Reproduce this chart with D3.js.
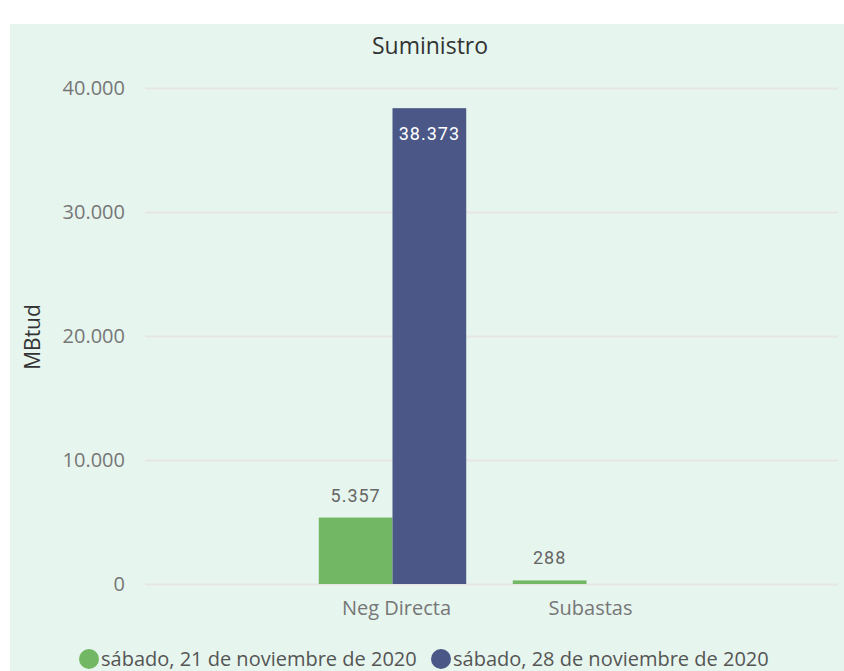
<!DOCTYPE html>
<html lang="es">
<head>
<meta charset="UTF-8" />
<title>Suministro</title>
<script src="https://cdn.jsdelivr.net/npm/d3@7"></script>
<style>
  body { margin: 0; background: #fff; }
  text { font-family: "Open Sans", "Noto Sans", sans-serif; }
</style>
</head>
<body>
<div id="chart"></div>
<script>
  const categories = ["Neg Directa", "Subastas"];
  const seriesNames = ["sábado, 21 de noviembre de 2020", "sábado, 28 de noviembre de 2020"];
  const series21 = [5357, 288];
  const series28 = [38373, null];
  const yTicks = [0, 10000, 20000, 30000, 40000];
  const colors = ["#72b763", "#4a5787"];

  const width = 844, height = 671;
  const locale = d3.formatLocale({ decimal: ",", thousands: ".", grouping: [3], currency: ["", "€"] });
  const fmt = locale.format(",d");

  const svg = d3.select("#chart").append("svg")
    .attr("width", width).attr("height", height);

  // panel background
  svg.append("rect").attr("x", 10).attr("y", 24).attr("width", width - 10).attr("height", height - 24)
    .attr("fill", "#e6f5ee");

  const y = d3.scaleLinear().domain([0, 40000]).range([584, 88]);
  const x0 = d3.scaleBand().domain(categories).range([143, 836]).paddingInner(0.24).paddingOuter(0.906);
  const x1 = d3.scaleBand().domain([0, 1]).range([0, x0.bandwidth()]);

  // title
  svg.append("text").attr("x", 430).attr("y", 54).attr("text-anchor", "middle")
    .attr("font-size", 23).attr("fill", "#333").text("Suministro");

  // y axis label
  svg.append("text").attr("transform", "translate(40,337) rotate(-90)").attr("text-anchor", "middle")
    .attr("font-size", 21).attr("fill", "#333").text("MBtud");

  // grid + ticks
  const yAxis = svg.append("g").attr("transform", "translate(145,0)")
    .call(d3.axisLeft(y).tickValues(yTicks).tickSize(-693).tickPadding(20).tickFormat(fmt));
  yAxis.select(".domain").remove();
  yAxis.selectAll(".tick line").attr("stroke", "#e6e6e6").attr("stroke-width", 2);
  yAxis.selectAll(".tick text").attr("font-size", 20).attr("fill", "#777")
    .attr("font-family", "'Open Sans', sans-serif");

  // bars
  const rows = categories.map((c, i) => ({ cat: c, vals: [series21[i], series28[i]] }));
  const groups = svg.append("g").selectAll("g").data(rows).join("g")
    .attr("transform", d => `translate(${x0(d.cat)},0)`);

  groups.selectAll("rect")
    .data(d => d.vals.map((v, k) => ({ v, k })).filter(e => e.v != null))
    .join("rect")
    .attr("x", e => x1(e.k)).attr("width", x1.bandwidth())
    .attr("y", e => y(e.v)).attr("height", e => y(0) - y(e.v))
    .attr("fill", e => colors[e.k]);

  // data labels
  groups.selectAll("text.lbl")
    .data(d => d.vals.map((v, k) => ({ v, k })).filter(e => e.v != null))
    .join("text").attr("class", "lbl")
    .attr("x", e => x1(e.k) + x1.bandwidth() / 2)
    .attr("y", e => e.v > 20000 ? y(e.v) + 32 : y(e.v) - 16)
    .attr("text-anchor", "middle").attr("font-size", 18)
    .attr("letter-spacing", 1)
    .style("font-family", "Roboto, sans-serif")
    .attr("fill", e => e.v > 20000 ? "#fff" : "#666")
    .text(e => fmt(e.v));

  // x axis labels
  svg.append("g").selectAll("text").data(categories).join("text")
    .attr("x", d => x0(d) + x0.bandwidth() / 2 + 4).attr("y", 615)
    .attr("text-anchor", "middle").attr("font-size", 20).attr("fill", "#777")
    .text(d => d);

  // legend
  const legend = svg.append("g");
  const legX = [89, 441];
  seriesNames.forEach((name, i) => {
    legend.append("circle").attr("cx", legX[i]).attr("cy", 659).attr("r", 10).attr("fill", colors[i]);
    legend.append("text").attr("x", legX[i] + 12).attr("y", 666).attr("font-size", 20).attr("fill", "#555")
      .text(name);
  });
</script>
</body>
</html>
